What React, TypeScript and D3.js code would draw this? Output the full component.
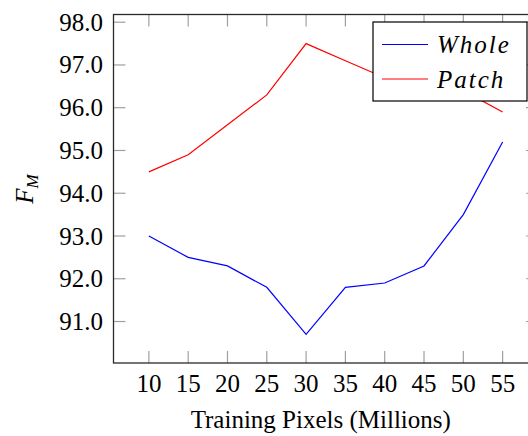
import React from "react";
import * as d3 from "d3";

const pixels = [10, 15, 20, 25, 30, 35, 40, 45, 50, 55];
const whole = [93.0, 92.5, 92.3, 91.8, 90.7, 91.8, 91.9, 92.3, 93.5, 95.2];
const patch = [94.5, 94.9, 95.6, 96.3, 97.5, 97.1, 96.7, 96.55, 96.4, 95.9];
const yTicks = [91, 92, 93, 94, 95, 96, 97, 98];
const seriesNames = ["Whole", "Patch"];
const seriesColors = ["#0000ff", "#ff0000"];

const txt = { fontFamily: `"Liberation Serif", "DejaVu Serif", serif`, fontSize: "25px" };

export default function App() {
  const W = 528, H = 436;
  const x = d3.scaleLinear().domain([5.5, 59.5]).range([113.5, 538]);
  const y = d3.scaleLinear().domain([90.03, 98.18]).range([363, 14.5]);
  const [x0, x1] = x.range();
  const [yb, yt] = y.range();
  const tl = 12;
  const line = d3
    .line<[number, number]>()
    .x((d) => x(d[0]))
    .y((d) => y(d[1]));
  const series = [whole, patch];

  return (
    <svg width={W} height={H} style={{ position: "absolute", left: 0, top: 0 }}>
      <g stroke="#a0a0a0" strokeWidth={1.2}>
        {yTicks.map((t) => (
          <g key={"y" + t}>
            <line x1={x0} x2={x0 + tl} y1={y(t)} y2={y(t)} />
            <line x1={x1} x2={x1 - tl} y1={y(t)} y2={y(t)} />
          </g>
        ))}
        {pixels.map((t) => (
          <g key={"x" + t}>
            <line x1={x(t)} x2={x(t)} y1={yb} y2={yb - tl} />
            <line x1={x(t)} x2={x(t)} y1={yt} y2={yt + tl} />
          </g>
        ))}
      </g>
      {series.map((s, i) => (
        <path
          key={seriesNames[i]}
          d={line(pixels.map((p, j) => [p, s[j]] as [number, number])) || ""}
          fill="none"
          stroke={seriesColors[i]}
          strokeWidth={1.2}
        />
      ))}
      <rect
        x={x0}
        y={yt}
        width={x1 - x0}
        height={yb - yt}
        fill="none"
        stroke="#2a2a2a"
        strokeWidth={1.3}
      />
      {yTicks.map((t) => (
        <text key={"yl" + t} x={103} y={y(t) + 8.5} textAnchor="end" style={txt}>
          {t.toFixed(1)}
        </text>
      ))}
      {pixels.map((t) => (
        <text key={"xl" + t} x={x(t)} y={392} textAnchor="middle" style={txt}>
          {t}
        </text>
      ))}
      <text x={(x0 + x1) / 2 - 5} y={428} textAnchor="middle" style={txt}>
        Training Pixels (Millions)
      </text>
      <text
        transform="translate(33,189) rotate(-90)"
        textAnchor="middle"
        style={{ ...txt, fontStyle: "italic" }}
      >
        F
        <tspan style={{ fontSize: "17px" }} dy={5}>M</tspan>
      </text>
      <rect x={373} y={22} width={154} height={79} fill="#fff" stroke="#000" strokeWidth={1.2} />
      {seriesNames.map((n, i) => (
        <g key={"lg" + n}>
          <line
            x1={382}
            x2={428}
            y1={44.5 + i * 34.5}
            y2={44.5 + i * 34.5}
            stroke={seriesColors[i]}
            strokeWidth={1.2}
          />
          <text
            x={437}
            y={44.5 + i * 34.5 + 8.5}
            style={{ ...txt, fontStyle: "italic", letterSpacing: "2px" }}
          >
            {n}
          </text>
        </g>
      ))}
    </svg>
  );
}
